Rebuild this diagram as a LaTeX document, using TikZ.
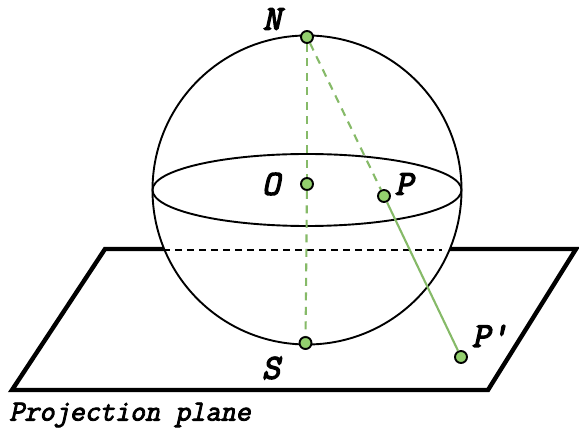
\documentclass[tikz,border=0pt]{standalone}
\usepackage{fontspec}
\newfontfamily\courlab[FakeBold=4,FakeSlant=0.22]{Latin Modern Mono}
\newfontfamily\courcap[FakeBold=3,FakeSlant=0.22]{Latin Modern Mono}
\definecolor{dotgreen}{RGB}{147,208,110}
\definecolor{raygreen}{RGB}{134,186,104}
\begin{document}
\begin{tikzpicture}[x=1pt,y=-1pt,
  dot/.style={circle,draw=black,fill=dotgreen,line width=1.9pt,minimum size=12pt,inner sep=0pt},
  lab/.style={font=\courlab\fontsize{35}{35}\selectfont,inner sep=0pt,text=black},
  captext/.style={font=\courcap\fontsize{29.3}{29.3}\selectfont,inner sep=0pt,anchor=west,text=black},
  ray/.style={draw=raygreen,line width=2.1pt},
  dsh/.style={ray,dash pattern=on 8pt off 6.5pt}]
\useasboundingbox (0,0) rectangle (579,430);
\coordinate (PA) at (105,249); \coordinate (PB) at (576,249); \coordinate (PC) at (488,390); \coordinate (PD) at (12,390);
\draw[line width=4.4pt,miter limit=10] (PA)--(PB)--(PC)--(PD)--cycle;
\coordinate (Ctr) at (307,190);
\fill[white] (Ctr) circle (154.5);
\draw[line width=1.9pt] (Ctr) circle (154.5);
\draw[line width=1.9pt] (Ctr) ellipse (154.5 and 36);
\coordinate (DL) at (163,250); \coordinate (DR) at (442,250);
\draw[line width=1.6pt,dash pattern=on 7pt off 5pt] (DL)--(DR);
\node[dot] (N) at (307,37) {};
\node[dot] (O) at (307,184) {};
\node[dot] (P) at (384,196) {};
\node[dot] (S) at (305.5,343) {};
\node[dot] (Q) at (461,357) {};
\draw[dsh] (N)--(O);
\draw[dsh] (O)--(S);
\draw[dsh] (N)--(P);
\draw[ray] (P)--(Q);
\node[lab] (Nl) at (272,19) {N};
\node[lab] (Ol) at (271,184) {O};
\node[lab] (Pl) at (404,184) {P};
\node[lab] (Sl) at (271,368) {S};
\node[lab] (Ql) at (490,336) {P'};
\node[captext] (Cl) at (9,415) {Projection plane};
\end{tikzpicture}
\end{document}
